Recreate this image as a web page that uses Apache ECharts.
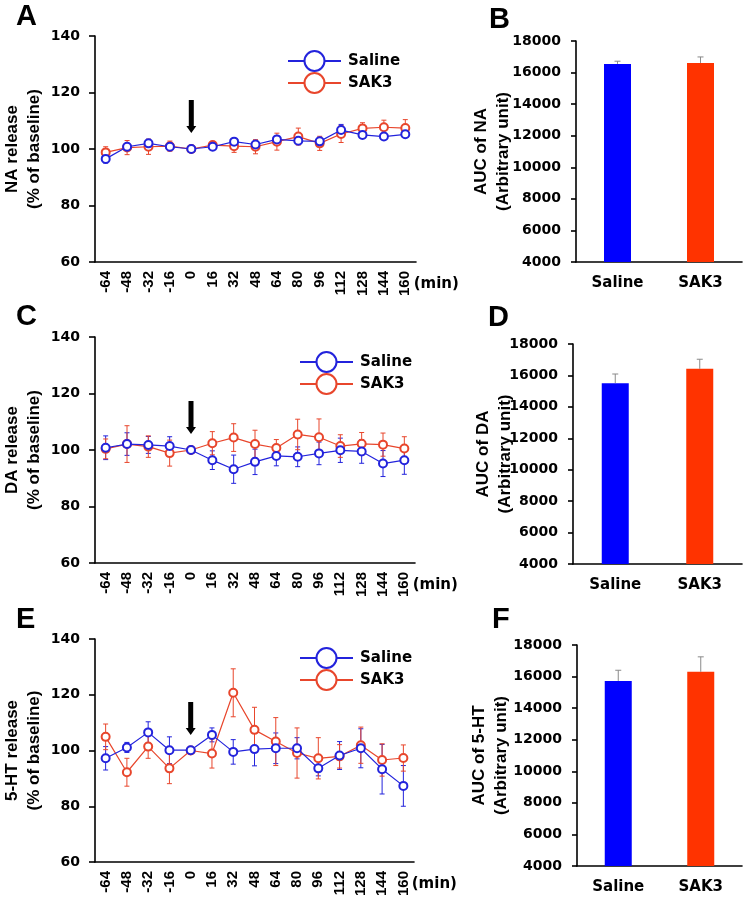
<!DOCTYPE html>
<html>
<head>
<meta charset="utf-8">
<script src="https://cdn.jsdelivr.net/npm/echarts@6/dist/echarts.min.js"></script>
<style>
  html, body { margin: 0; padding: 0; background: #fff; }
  #main { width: 743px; height: 906px; }
</style>
</head>
<body>
<div id="main"></div>
<script>
// time points (min)
var times = ['-64', '-48', '-32', '-16', '0', '16', '32', '48', '64', '80', '96', '112', '128', '144', '160'];

// NA release (% of baseline)
var naSaline = [96.5, 100.8, 102.0, 100.8, 100.0, 100.8, 102.6, 101.6, 103.4, 102.9, 102.7, 106.7, 105.0, 104.4, 105.2];
var naSalineErr = [1.5, 1.0, 0.8, 1.0, 0, 0.8, 1.0, 1.2, 1.2, 1.0, 1.2, 2.0, 1.0, 0.8, 1.0];
var naSak3 = [98.8, 100.5, 100.8, 101.0, 100.0, 101.4, 101.0, 100.8, 102.6, 104.4, 102.0, 105.3, 107.3, 107.7, 107.4];
var naSak3Err = [2.0, 2.5, 2.7, 1.8, 0, 1.2, 2.2, 2.5, 3.0, 3.0, 2.5, 3.0, 2.0, 2.5, 3.0];

// DA release
var daSaline = [100.8, 102.1, 101.8, 101.4, 100.0, 96.4, 93.2, 95.8, 97.9, 97.6, 98.8, 99.9, 99.5, 95.2, 96.4];
var daSalineErr = [4.2, 4.0, 3.0, 3.3, 0, 3.3, 5.0, 4.5, 3.5, 3.5, 4.0, 4.3, 4.2, 4.6, 5.0];
var daSak3 = [100.4, 102.1, 101.2, 98.9, 100.0, 102.4, 104.4, 102.1, 100.7, 105.5, 104.5, 101.4, 102.2, 101.9, 100.5];
var daSak3Err = [3.5, 6.5, 3.8, 4.6, 0, 4.1, 4.9, 4.9, 3.0, 5.4, 6.5, 4.0, 4.0, 4.1, 4.2];

// 5-HT release
var htSaline = [97.2, 101.1, 106.5, 100.1, 100.1, 105.6, 99.5, 100.5, 100.8, 100.8, 93.6, 98.2, 100.8, 93.3, 87.3];
var htSalineErr = [4.2, 1.8, 3.8, 4.8, 0, 2.5, 4.4, 6.0, 5.5, 3.8, 2.7, 5.0, 7.0, 8.9, 7.3];
var htSak3 = [104.9, 92.2, 101.4, 93.6, 100.0, 98.9, 120.7, 107.4, 103.2, 99.1, 97.2, 97.9, 101.9, 96.6, 97.3];
var htSak3Err = [4.6, 5.0, 4.2, 5.5, 0, 5.2, 8.6, 8.1, 8.6, 9.0, 7.4, 4.2, 6.5, 5.8, 4.7];

// AUC (arbitrary unit)
var groups = ['Saline', 'SAK3'];
var aucNA = [16550, 16610];
var aucNAErr = [170, 380];
var aucDA = [15510, 16420];
var aucDAErr = [580, 610];
var aucHT = [15725, 16300];
var aucHTErr = [675, 950];

// axis ticks
var lineYMin = 60, lineYMax = 140, lineYStep = 20;
var barYMin = 4000, barYMax = 18000, barYStep = 2000;
var arrowAt = '0', arrowY = 111.5;

var BLUE = '#2323dc', RED = '#e8462c';
var BAR_COLORS = ['#0000ff', '#ff3300'];
var ARIAL = '"Liberation Sans", Arial, sans-serif';
var DEJAVU = '"DejaVu Sans", sans-serif';

var chart = echarts.init(document.getElementById('main'), null, { renderer: 'canvas' });

// vertical error bar, both directions (lines) or only up (bars)
function errRender(params, api) {
  var x = api.value(0);
  var top = api.coord([x, api.value(2)]);
  var bot = api.coord([x, api.value(1)]);
  var w = api.value(3);
  var st = { stroke: api.visual('color'), lineWidth: 1 };
  var kids = [
    { type: 'line', shape: { x1: top[0], y1: top[1], x2: bot[0], y2: bot[1] }, style: st },
    { type: 'line', shape: { x1: top[0] - w / 2, y1: top[1], x2: top[0] + w / 2, y2: top[1] }, style: st }
  ];
  if (api.value(4)) {
    kids.push({ type: 'line', shape: { x1: bot[0] - w / 2, y1: bot[1], x2: bot[0] + w / 2, y2: bot[1] }, style: st });
  }
  return { type: 'group', children: kids };
}

function errData(mean, err, both, cap) {
  return mean.map(function (m, i) {
    return [i, both ? m - err[i] : m, m + err[i], cap, both ? 1 : 0];
  });
}

var grids = [], xAxes = [], yAxes = [], series = [], legends = [], graphics = [];

function axisLine() {
  return { show: true, lineStyle: { color: '#000', width: 1.6 } };
}

function addLinePanel(idx, g, yName, sal, salErr, sak, sakErr, lg) {
  grids.push(g);
  xAxes.push({
    gridIndex: idx, type: 'category', data: times, boundaryGap: true,
    axisLine: axisLine(), axisTick: { show: false },
    axisLabel: { interval: 0, rotate: 90, margin: 9, color: '#000', fontWeight: 'bold', fontSize: 15, fontFamily: ARIAL },
    name: '(min)', nameLocation: 'end', nameGap: -3,
    nameTextStyle: { color: '#000', fontWeight: 'bold', fontSize: 15, fontFamily: DEJAVU, verticalAlign: 'top', lineHeight: 44, align: 'left' }
  });
  yAxes.push({
    gridIndex: idx, type: 'value', min: lineYMin, max: lineYMax, interval: lineYStep,
    axisLine: axisLine(), axisTick: { show: true, length: 6, lineStyle: { color: '#000', width: 1.6 } },
    splitLine: { show: false },
    axisLabel: { margin: 15, color: '#000', fontWeight: 'bold', fontSize: 14, fontFamily: DEJAVU },
    name: yName, nameLocation: 'middle', nameGap: 50, nameRotate: 90,
    nameTextStyle: { color: '#000', fontWeight: 'bold', fontSize: 17, lineHeight: 22, fontFamily: ARIAL }
  });
  series.push({
    name: 'err-sal-' + idx, type: 'custom', xAxisIndex: idx, yAxisIndex: idx, z: 1,
    renderItem: errRender, itemStyle: { color: BLUE }, data: errData(sal, salErr, true, 5), silent: true
  });
  series.push({
    name: 'err-sak-' + idx, type: 'custom', xAxisIndex: idx, yAxisIndex: idx, z: 1,
    renderItem: errRender, itemStyle: { color: RED }, data: errData(sak, sakErr, true, 5), silent: true
  });
  series.push({
    name: 'Saline', type: 'line', xAxisIndex: idx, yAxisIndex: idx, z: 3,
    data: sal, symbol: 'emptyCircle', symbolSize: 8,
    lineStyle: { color: BLUE, width: 1.2 }, itemStyle: { color: BLUE, borderWidth: 1.5 },
    markPoint: {
      silent: true, label: { show: false },
      data: [{
        coord: [times.indexOf(arrowAt), arrowY],
        symbol: 'path://M2.5,0 L7.5,0 L7.5,26 L10,26 L5,33 L0,26 L2.5,26 Z',
        symbolSize: [10, 33], itemStyle: { color: '#000' }
      }]
    }
  });
  series.push({
    name: 'SAK3', type: 'line', xAxisIndex: idx, yAxisIndex: idx, z: 2,
    data: sak, symbol: 'emptyCircle', symbolSize: 8,
    lineStyle: { color: RED, width: 1.2 }, itemStyle: { color: RED, borderWidth: 1.5 }
  });
  legends.push({
    data: ['Saline', 'SAK3'], orient: 'vertical', left: lg[0], top: lg[1], padding: 0,
    itemWidth: 53, itemHeight: 25, itemGap: 0, selectedMode: false,
    textStyle: { color: '#000', fontWeight: 'bold', fontSize: 15, fontFamily: DEJAVU, padding: [0, 0, 0, 2] }
  });
}

function addBarPanel(idx, g, yName, vals, errs, gap) {
  grids.push(g);
  xAxes.push({
    gridIndex: idx, type: 'category', data: groups, boundaryGap: true,
    axisLine: axisLine(), axisTick: { show: false },
    axisLabel: { margin: 14, color: '#000', fontWeight: 'bold', fontSize: 15, fontFamily: DEJAVU }
  });
  yAxes.push({
    gridIndex: idx, type: 'value', min: barYMin, max: barYMax, interval: barYStep,
    axisLine: axisLine(), axisTick: { show: true, length: 5, lineStyle: { color: '#000', width: 1.6 } },
    splitLine: { show: false },
    axisLabel: { margin: 15, color: '#000', fontWeight: 'bold', fontSize: 14, fontFamily: DEJAVU,
      formatter: function (v) { return String(v); } },
    name: yName, nameLocation: 'middle', nameGap: gap, nameRotate: 90, nameMoveOverlap: false,
    nameTextStyle: { color: '#000', fontWeight: 'bold', fontSize: 17, lineHeight: 22, fontFamily: ARIAL }
  });
  series.push({
    name: 'auc-' + idx, type: 'bar', xAxisIndex: idx, yAxisIndex: idx, barWidth: 27,
    data: vals.map(function (v, i) { return { value: v, itemStyle: { color: BAR_COLORS[i] } }; })
  });
  series.push({
    name: 'auc-err-' + idx, type: 'custom', xAxisIndex: idx, yAxisIndex: idx, z: 3,
    renderItem: errRender, itemStyle: { color: '#8a8a8a' }, data: errData(vals, errs, false, 6), silent: true
  });
}

addLinePanel(0, { left: 93, right: 327, top: 36, bottom: 644 }, 'NA release\n(% of baseline)',
  naSaline, naSalineErr, naSak3, naSak3Err, [287, 50]);
addBarPanel(1, { left: 576, right: 1, top: 41, bottom: 644 }, 'AUC of NA\n(Arbitrary unit)', aucNA, aucNAErr, 62);
addLinePanel(2, { left: 92, right: 328, top: 337, bottom: 343 }, 'DA release\n(% of baseline)',
  daSaline, daSalineErr, daSak3, daSak3Err, [299, 351]);
addBarPanel(3, { left: 573, right: 1, top: 344, bottom: 342 }, 'AUC of DA\n(Arbitrary unit)', aucDA, aucDAErr, 57);
addLinePanel(4, { left: 91, right: 329, top: 639, bottom: 40 }, '5-HT release\n(% of baseline)',
  htSaline, htSalineErr, htSak3, htSak3Err, [299, 647]);
addBarPanel(5, { left: 577, right: 1, top: 645, bottom: 40 }, 'AUC of 5-HT\n(Arbitrary unit)', aucHT, aucHTErr, 65);

var letters = [['A', 16, 2], ['B', 489, 5], ['C', 16, 302], ['D', 488, 303], ['E', 16, 605], ['F', 492, 605]];
letters.forEach(function (l) {
  graphics.push({
    type: 'text', left: l[1], top: l[2],
    style: { text: l[0], fill: '#000', font: 'bold 29px ' + ARIAL }
  });
});

chart.setOption({
  backgroundColor: '#fff',
  animation: false,
  grid: grids,
  xAxis: xAxes,
  yAxis: yAxes,
  legend: legends,
  graphic: graphics,
  series: series
});
</script>
</body>
</html>
